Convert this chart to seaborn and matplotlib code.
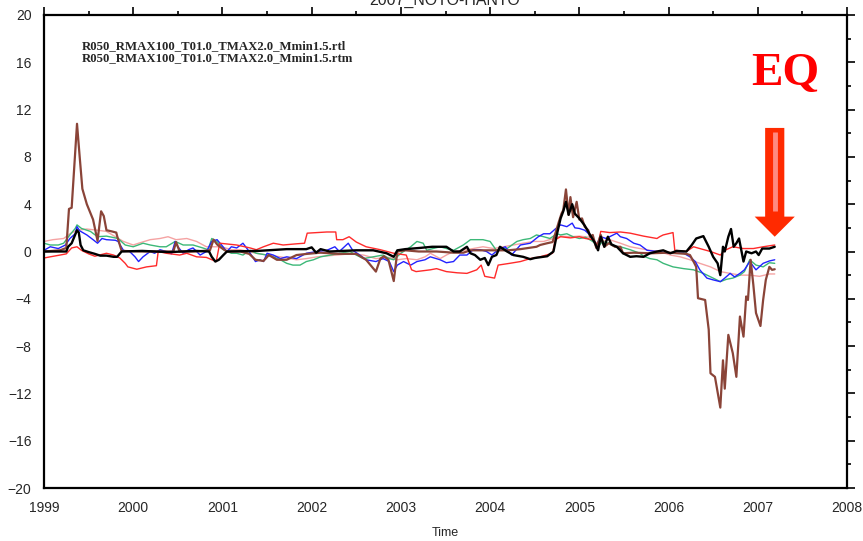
import numpy as np
import pandas as pd
import matplotlib
matplotlib.use("Agg")
import matplotlib.pyplot as plt
from matplotlib.patches import FancyArrow
from matplotlib.ticker import MultipleLocator
import seaborn as sns

# ---------------------------------------------------------------- data
brown_t = [1999.00, 1999.18, 1999.25, 1999.28, 1999.31, 1999.37, 1999.40, 1999.43, 1999.48, 1999.55,
           1999.60, 1999.64, 1999.67, 1999.70, 1999.76, 1999.81, 1999.82, 1999.87, 2000.10, 2000.30,
           2000.45, 2000.48, 2000.52, 2000.70, 2000.86, 2000.90, 2000.94, 2000.99, 2001.05, 2001.20,
           2001.30, 2001.37, 2001.46, 2001.52, 2001.61, 2001.72, 2001.83, 2001.95, 2002.10, 2002.30,
           2002.50, 2002.61, 2002.72, 2002.77, 2002.81, 2002.86, 2002.92, 2002.96, 2003.05, 2003.20,
           2003.40, 2003.59, 2003.70, 2003.78, 2004.00, 2004.20, 2004.34, 2004.52, 2004.56, 2004.64,
           2004.70, 2004.73, 2004.77, 2004.80, 2004.82, 2004.85, 2004.88, 2004.90, 2004.93, 2004.97,
           2005.00, 2005.03, 2005.06, 2005.10, 2005.12, 2005.15, 2005.19, 2005.24, 2005.28, 2005.33,
           2005.40, 2005.46, 2005.49, 2005.61, 2005.80, 2006.00, 2006.20, 2006.24, 2006.28, 2006.31,
           2006.33, 2006.41, 2006.45, 2006.47, 2006.52, 2006.58, 2006.61, 2006.63, 2006.67, 2006.72,
           2006.76, 2006.80, 2006.84, 2006.87, 2006.89, 2006.92, 2006.95, 2006.98, 2007.03, 2007.06,
           2007.09, 2007.13, 2007.16, 2007.19]
brown_v = [0.0, 0.1, 0.3, 3.6, 3.7, 10.8, 8.0, 5.3, 4.0, 2.7,
           0.9, 3.4, 3.0, 1.8, 1.7, 1.6, 1.3, 0.05, 0.0, 0.0,
           0.0, 0.8, 0.0, 0.0, 0.1, 1.0, 0.6, 0.3, 0.0, 0.0,
           -0.2, -0.7, -0.8, -0.3, -0.7, -0.7, -0.3, -0.2, -0.1, -0.2,
           -0.2, -0.7, -1.7, -0.6, -0.4, -0.7, -2.5, 0.0, 0.1, 0.0,
           0.0, -0.1, -0.1, 0.1, 0.1, 0.1, 0.2, 0.4, 0.55, 0.7,
           0.8, 1.5, 2.5, 3.2, 3.5, 5.25, 3.1, 4.6, 2.9, 4.2,
           2.7, 2.8, 2.1, 1.8, 1.25, 1.4, 0.3, 1.4, 0.4, 0.7,
           0.4, 0.4, -0.15, -0.1, -0.15, -0.1, -0.2, -0.3, -0.85, -1.3,
           -3.95, -4.1, -6.6, -10.3, -10.6, -13.2, -9.2, -11.6, -7.05, -8.6,
           -10.6, -5.5, -7.2, -3.8, -4.1, -0.7, -2.8, -5.2, -6.3, -4.1,
           -2.4, -1.3, -1.55, -1.5]

black_t = [1999.00, 1999.25, 1999.27, 1999.31, 1999.37, 1999.39, 1999.41, 1999.44, 1999.50, 1999.57,
           1999.63, 1999.70, 1999.78, 1999.82, 1999.87, 2000.10, 2000.40, 2000.70, 2000.85, 2000.88,
           2000.92, 2000.96, 2001.01, 2001.05, 2001.40, 2001.72, 2001.94, 2002.00, 2002.05, 2002.10,
           2002.20, 2002.50, 2002.69, 2002.84, 2002.92, 2002.96, 2003.05, 2003.21, 2003.35, 2003.51,
           2003.59, 2003.66, 2003.74, 2003.78, 2003.83, 2003.89, 2003.94, 2003.98, 2004.02, 2004.07,
           2004.11, 2004.19, 2004.26, 2004.37, 2004.45, 2004.50, 2004.64, 2004.71, 2004.75, 2004.79,
           2004.82, 2004.85, 2004.88, 2004.92, 2004.95, 2005.00, 2005.06, 2005.12, 2005.17, 2005.21,
           2005.24, 2005.28, 2005.32, 2005.36, 2005.42, 2005.49, 2005.57, 2005.64, 2005.72, 2005.79,
           2005.87, 2005.94, 2006.02, 2006.09, 2006.20, 2006.26, 2006.31, 2006.39, 2006.45, 2006.50,
           2006.55, 2006.58, 2006.61, 2006.63, 2006.67, 2006.70, 2006.73, 2006.76, 2006.79, 2006.84,
           2006.87, 2006.93, 2006.98, 2007.01, 2007.05, 2007.13, 2007.19]
black_v = [0.0, 0.0, 0.4, 0.7, 1.8, 1.6, 0.55, 0.1, -0.05, -0.2,
           -0.35, -0.35, -0.45, -0.45, 0.0, 0.05, -0.05, 0.05, 0.0, -0.45,
           -0.85, -0.7, -0.3, 0.0, 0.05, 0.2, 0.2, 0.35, -0.1, 0.2,
           0.0, 0.1, 0.1, -0.15, -0.45, 0.1, 0.2, 0.3, 0.4, 0.4,
           0.0, 0.0, 0.4, -0.15, -0.3, -0.7, -0.55, -1.15, -0.45, -0.3,
           0.4, 0.0, -0.3, -0.45, -0.65, -0.55, -0.4, 0.0, 1.5, 2.8,
           3.4, 4.2, 3.1, 4.0, 3.2, 2.8, 2.2, 1.4, 0.8, 0.1,
           1.25, 0.4, 1.25, 0.6, 0.4, -0.15, -0.45, -0.4, -0.45, -0.15,
           0.0, 0.1, -0.15, 0.05, 0.0, 0.55, 1.1, 1.3, 0.4, -0.45,
           -1.0, -2.0, 0.4, 0.0, 1.25, 1.9, 0.4, 0.7, 1.1, -0.85,
           0.0, -0.15, 0.0, -0.3, 0.25, 0.25, 0.4]

red_t = [1999.00, 1999.07, 1999.18, 1999.25, 1999.31, 1999.37, 1999.42, 1999.50, 1999.57, 1999.70,
         1999.78, 1999.85, 1999.91, 1999.94, 2000.04, 2000.15, 2000.26, 2000.28, 2000.37, 2000.52,
         2000.60, 2000.71, 2000.82, 2000.93, 2000.97, 2001.16, 2001.31, 2001.38, 2001.46, 2001.57,
         2001.68, 2001.83, 2001.92, 2001.95, 2002.06, 2002.17, 2002.27, 2002.28, 2002.35, 2002.42,
         2002.50, 2002.61, 2002.77, 2002.92, 2003.06, 2003.12, 2003.17, 2003.33, 2003.40, 2003.51,
         2003.63, 2003.74, 2003.85, 2003.90, 2003.94, 2004.05, 2004.09, 2004.22, 2004.34, 2004.45,
         2004.56, 2004.70, 2004.73, 2004.79, 2004.90, 2005.00, 2005.07, 2005.15, 2005.21, 2005.24,
         2005.34, 2005.46, 2005.57, 2005.72, 2005.87, 2005.90, 2005.94, 2006.05, 2006.07, 2006.20,
         2006.28, 2006.35, 2006.47, 2006.58, 2006.63, 2006.72, 2006.84, 2006.95, 2007.06, 2007.19]
red_v = [-0.55, -0.45, -0.3, -0.2, 0.3, 0.4, 0.1, -0.2, -0.4, -0.15,
         -0.3, -0.55, -1.0, -1.3, -1.5, -1.3, -1.2, 0.0, -0.15, -0.3,
         -0.15, -0.45, -0.5, -0.85, 0.7, 0.55, 0.3, 0.15, 0.4, 0.7,
         0.55, 0.65, 0.7, 1.55, 1.6, 1.65, 1.65, 1.0, 1.0, 1.25,
         0.8, 0.4, 0.15, -0.15, -0.3, -1.55, -1.7, -1.55, -1.45, -1.7,
         -1.8, -1.85, -1.55, -1.15, -2.1, -2.25, -1.15, -1.0, -0.85, -0.6,
         -0.45, -0.15, 1.0, 1.25, 1.15, 1.25, 1.1, 1.0, 0.55, 1.7,
         1.6, 1.65, 1.55, 1.3, 1.1, 1.25, 1.4, 1.6, 0.1, 0.0,
         0.4, 0.25, 0.0, -0.3, 0.1, 0.4, 0.25, 0.25, 0.4, 0.55]

blue_t = [1999.00, 1999.07, 1999.16, 1999.24, 1999.29, 1999.35, 1999.37, 1999.40, 1999.48, 1999.55,
          1999.60, 1999.65, 1999.70, 1999.80, 1999.83, 1999.89, 1999.96, 2000.02, 2000.06, 2000.11,
          2000.19, 2000.24, 2000.30, 2000.37, 2000.43, 2000.47, 2000.50, 2000.56, 2000.62, 2000.67,
          2000.75, 2000.82, 2000.88, 2000.94, 2000.99, 2001.05, 2001.10, 2001.16, 2001.23, 2001.29,
          2001.37, 2001.42, 2001.46, 2001.50, 2001.57, 2001.65, 2001.72, 2001.83, 2001.94, 2002.06,
          2002.17, 2002.26, 2002.31, 2002.41, 2002.46, 2002.54, 2002.61, 2002.72, 2002.80, 2002.87,
          2002.92, 2002.96, 2003.03, 2003.11, 2003.18, 2003.27, 2003.33, 2003.44, 2003.51, 2003.59,
          2003.66, 2003.74, 2003.81, 2003.89, 2003.96, 2004.02, 2004.09, 2004.17, 2004.24, 2004.34,
          2004.45, 2004.54, 2004.60, 2004.67, 2004.73, 2004.79, 2004.86, 2004.92, 2004.95, 2005.00,
          2005.06, 2005.12, 2005.19, 2005.24, 2005.30, 2005.42, 2005.46, 2005.53, 2005.61, 2005.68,
          2005.76, 2005.87, 2006.02, 2006.17, 2006.24, 2006.30, 2006.35, 2006.43, 2006.50, 2006.58,
          2006.63, 2006.69, 2006.74, 2006.80, 2006.85, 2006.91, 2006.98, 2007.06, 2007.13, 2007.19]
blue_v = [0.1, 0.4, 0.25, 0.55, 1.1, 1.5, 2.1, 1.75, 1.4, 1.0,
          0.7, 1.1, 1.0, 0.95, 0.85, 0.1, 0.0, -0.45, -0.85, -0.45,
          0.0, -0.15, 0.15, 0.0, -0.2, 0.85, 0.4, -0.15, 0.15, 0.3,
          -0.3, 0.0, 0.85, 1.0, 0.55, 0.0, 0.4, 0.3, 0.7, 0.1,
          -0.85, -0.7, -0.85, -0.15, -0.3, -0.6, -0.45, -0.6, -0.15, 0.0,
          0.1, 0.4, 0.0, 0.7, 0.1, -0.3, -0.7, -0.85, -0.6, -0.85,
          -1.7, -1.15, -0.85, -1.15, -0.85, -0.7, -0.45, -0.7, -0.95, -0.85,
          -0.3, -0.3, 0.15, 0.15, 0.0, -0.3, 0.15, 0.4, -0.3, 0.55,
          0.7, 1.25, 1.5, 1.5, 1.9, 2.25, 2.1, 2.4, 2.0, 1.95,
          1.8, 1.4, 0.55, 1.25, 1.1, 1.55, 1.25, 1.1, 0.7, 0.55,
          0.1, 0.0, -0.15, -0.15, -0.45, -0.85, -1.55, -2.25, -2.4, -2.55,
          -2.25, -1.85, -2.15, -1.85, -1.55, -0.85, -1.55, -1.0, -0.8, -0.7]

green_t = [1999.00, 1999.07, 1999.16, 1999.22, 1999.29, 1999.35, 1999.37, 1999.42, 1999.52, 1999.60,
           1999.70, 1999.83, 1999.91, 2000.00, 2000.11, 2000.19, 2000.30, 2000.37, 2000.47, 2000.56,
           2000.67, 2000.78, 2000.84, 2000.88, 2000.94, 2001.01, 2001.10, 2001.16, 2001.23, 2001.31,
           2001.38, 2001.50, 2001.57, 2001.65, 2001.72, 2001.79, 2001.87, 2001.94, 2002.02, 2002.10,
           2002.21, 2002.32, 2002.43, 2002.50, 2002.58, 2002.69, 2002.80, 2002.87, 2002.92, 2003.00,
           2003.11, 2003.18, 2003.25, 2003.29, 2003.36, 2003.44, 2003.51, 2003.59, 2003.70, 2003.78,
           2003.85, 2003.92, 2004.00, 2004.07, 2004.19, 2004.30, 2004.37, 2004.45, 2004.52, 2004.60,
           2004.67, 2004.75, 2004.79, 2004.86, 2004.93, 2005.00, 2005.07, 2005.15, 2005.21, 2005.26,
           2005.33, 2005.40, 2005.46, 2005.57, 2005.68, 2005.72, 2005.79, 2005.87, 2005.94, 2006.05,
           2006.17, 2006.28, 2006.39, 2006.50, 2006.58, 2006.65, 2006.72, 2006.80, 2006.85, 2006.91,
           2006.98, 2007.06, 2007.13, 2007.19]
green_v = [0.7, 0.55, 0.55, 0.7, 1.4, 1.95, 2.25, 1.95, 1.7, 1.25,
           1.3, 1.1, 0.55, 0.4, 0.7, 0.55, 0.4, 0.4, 0.85, 0.55,
           0.55, 0.3, 0.15, 1.1, 0.85, 0.15, -0.15, -0.15, -0.3, 0.1,
           -0.15, -0.3, -0.45, -0.7, -1.0, -1.15, -1.15, -0.85, -0.7, -0.45,
           -0.3, -0.15, 0.0, -0.3, -0.6, -0.45, -0.3, -0.6, -0.7, -0.15,
           0.4, 0.85, 0.7, 0.1, 0.25, 0.4, 0.25, 0.1, 0.55, 1.0,
           1.0, 1.0, 0.85, 0.1, 0.25, 0.85, 1.0, 1.1, 1.4, 1.25,
           1.1, 1.5, 1.4, 1.5, 1.25, 1.1, 1.2, 0.85, 0.4, 0.85,
           0.7, 0.4, 0.4, 0.15, -0.15, -0.4, -0.6, -0.7, -1.0, -1.3,
           -1.45, -1.55, -1.85, -2.25, -2.55, -2.35, -2.25, -2.0, -1.7, -0.7,
           -1.15, -1.3, -0.95, -1.0]

pink_t = [1999.00, 1999.10, 1999.22, 1999.29, 1999.37, 1999.48, 1999.60, 1999.70, 1999.80, 1999.89,
          2000.00, 2000.06, 2000.19, 2000.30, 2000.39, 2000.48, 2000.60, 2000.71, 2000.82, 2000.99,
          2001.10, 2001.20, 2001.38, 2001.50, 2001.65, 2001.83, 2001.94, 2002.06, 2002.28, 2002.43,
          2002.58, 2002.72, 2002.87, 2002.96, 2003.06, 2003.18, 2003.27, 2003.33, 2003.44, 2003.51,
          2003.59, 2003.70, 2003.81, 2003.92, 2004.04, 2004.15, 2004.26, 2004.37, 2004.49, 2004.60,
          2004.71, 2004.79, 2004.90, 2005.00, 2005.12, 2005.19, 2005.26, 2005.34, 2005.46, 2005.57,
          2005.68, 2005.79, 2005.90, 2006.02, 2006.13, 2006.24, 2006.35, 2006.47, 2006.58, 2006.69,
          2006.80, 2006.91, 2007.02, 2007.13, 2007.19]
pink_v = [0.85, 1.0, 1.1, 1.5, 1.8, 1.9, 1.8, 1.7, 1.25, 0.85,
          0.55, 0.7, 1.0, 1.1, 1.25, 1.0, 1.1, 0.85, 0.4, 0.4,
          0.15, 0.15, -0.15, -0.3, -0.45, -0.7, -0.6, -0.45, -0.3, -0.2,
          -0.3, -0.6, -0.5, -0.7, -0.6, -0.7, -0.45, -0.15, -0.6, -0.3,
          0.0, 0.1, 0.25, 0.4, 0.25, 0.4, 0.55, 0.7, 0.85, 0.85,
          1.1, 1.3, 1.25, 1.3, 1.2, 0.55, 0.85, 1.0, 0.7, 0.4,
          0.25, 0.1, 0.0, -0.3, -0.45, -0.7, -1.0, -1.3, -1.7, -1.85,
          -2.0, -2.0, -2.1, -1.9, -1.9]

x_ticks = [1999, 2000, 2001, 2002, 2003, 2004, 2005, 2006, 2007, 2008]
y_ticks = [-20, -16, -12, -8, -4, 0, 4, 8, 12, 16, 20]
file_labels = ["R050_RMAX100_T01.0_TMAX2.0_Mmin1.5.rtl",
               "R050_RMAX100_T01.0_TMAX2.0_Mmin1.5.rtm"]
title_text = "2007_NOTO-HANTO"

# (name, time, value, colour, width) in drawing order
series = [
    ("pink", pink_t, pink_v, "#f5a3a3", 1.0),
    ("green", green_t, green_v, "#3cb878", 1.0),
    ("blue", blue_t, blue_v, "#2222ff", 1.0),
    ("red", red_t, red_v, "#ff2a2a", 1.0),
    ("brown", brown_t, brown_v, "#8a4438", 1.6),
    ("black", black_t, black_v, "#000000", 1.7),
]

frames = []
for name, t, v, _, _ in series:
    frames.append(pd.DataFrame({"t": t, "v": v, "series": name}))
df = pd.concat(frames, ignore_index=True)

# ---------------------------------------------------------------- style
sns.set_style("white")
plt.rcParams["font.family"] = ["Liberation Sans", "DejaVu Sans"]

fig = plt.figure(figsize=(8.63, 5.41), dpi=100)
ax = fig.add_axes([44 / 863, 1 - 488 / 541, (847 - 44) / 863, (488 - 15) / 541])

for name, _, _, color, lw in series:
    sns.lineplot(data=df[df["series"] == name], x="t", y="v", ax=ax,
                 color=color, linewidth=lw, estimator=None, sort=False,
                 legend=False)

ax.set_xlim(1999, 2008)
ax.set_ylim(-20, 20)
ax.set_xticks(x_ticks)
ax.set_yticks(y_ticks)
ax.set_xticklabels([str(x) for x in x_ticks])
ax.set_yticklabels([str(y).replace("-", "\u2212") for y in y_ticks])
ax.xaxis.set_minor_locator(MultipleLocator(0.5))
ax.yaxis.set_minor_locator(MultipleLocator(2))
ax.tick_params(which="both", direction="out", top=True, right=True,
               labeltop=False, labelright=False, width=1.2, color="black")
ax.tick_params(which="major", length=6, labelsize=10, pad=3)
ax.tick_params(which="minor", length=3)
for side in ax.spines.values():
    side.set_visible(True)
    side.set_linewidth(1.6)
    side.set_color("black")
ax.set_xlabel("Time", fontsize=9, labelpad=9)
ax.set_ylabel("")

# run identifiers in the upper left
for i, lab in enumerate(file_labels):
    fig.text(82 / 863, 1 - (46 + 12 * i) / 541, lab, family="Liberation Serif",
             fontsize=9.2, fontweight="bold", va="center", ha="left")

# partly visible title along the top edge
fig.text(445 / 863, 1 - 5 / 541, title_text, fontsize=11.5, ha="center",
         va="baseline")

# earthquake marker
ax.text(2007.305, 14.07, "EQ", color="#ff0000", family="Liberation Serif",
        fontsize=34, fontweight="bold", ha="center", va="baseline")
arrow = FancyArrow(2007.19, 10.45, 0, -9.2, width=0.215, head_width=0.45,
                   head_length=1.7, length_includes_head=True,
                   color="#ff2a00", linewidth=0, zorder=5)
ax.add_patch(arrow)
ax.plot([2007.19, 2007.19], [10.1, 3.4], color="#ff8a80", linewidth=3.5,
        solid_capstyle="butt", zorder=6)

fig.savefig("out.png", dpi=100)
